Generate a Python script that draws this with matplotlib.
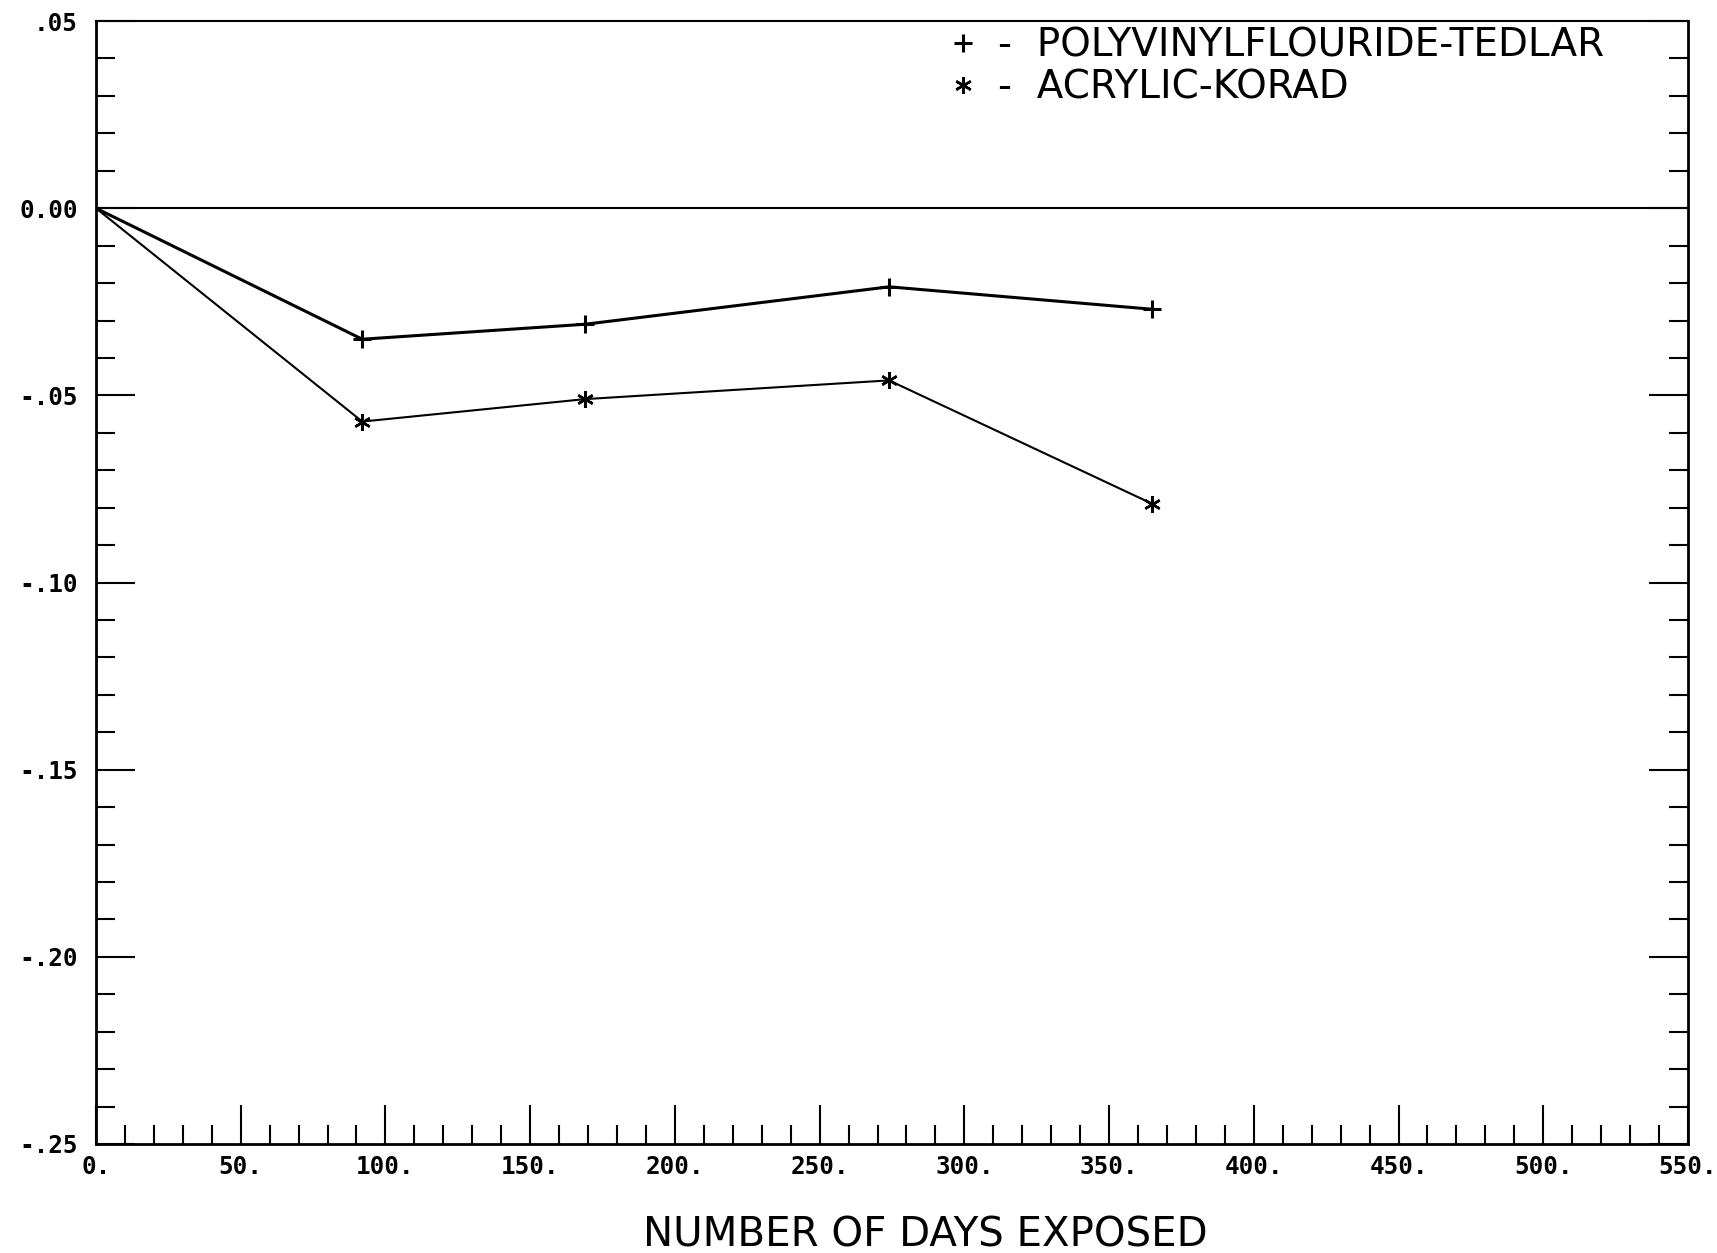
import matplotlib.pyplot as plt
from matplotlib.lines import Line2D
from matplotlib.ticker import MultipleLocator
from matplotlib.transforms import ScaledTranslation

# days of exposure and measured change for each glazing film
days = [0, 92, 169, 274, 365]
tedlar = [0.0, -0.035, -0.031, -0.021, -0.027]
korad = [0.0, -0.057, -0.051, -0.046, -0.079]

x_ticks = [0, 50, 100, 150, 200, 250, 300, 350, 400, 450, 500, 550]
x_tick_labels = ["0.", "50.", "100.", "150.", "200.", "250.", "300.",
                 "350.", "400.", "450.", "500.", "550."]
y_ticks = [0.05, 0.0, -0.05, -0.10, -0.15, -0.20, -0.25]
y_tick_labels = [".05", "0.00", "-.05", "-.10", "-.15", "-.20", "-.25"]

tick_font = {"family": "DejaVu Sans Mono", "weight": "bold", "size": 17.5}

fig = plt.figure(figsize=(17.17, 12.53), dpi=100)
ax = fig.add_axes([0.0559, 0.0870, 0.9272, 0.8962])

ax.axhline(0, color="black", lw=1.5)
ax.plot(days, tedlar, color="black", lw=2.2, marker="+", ms=13, mew=2.2,
        markevery=[1, 2, 3, 4])
ax.plot(days, korad, color="black", lw=1.5, marker=(6, 2, 0), ms=12, mew=1.8,
        markevery=[1, 2, 3, 4])

ax.set_xlim(0, 550)
ax.set_ylim(-0.25, 0.05)

ax.set_xticks(x_ticks)
ax.set_xticklabels(x_tick_labels, fontdict=tick_font)
ax.set_yticks(y_ticks)
ax.set_yticklabels(y_tick_labels, fontdict=tick_font)
ax.xaxis.set_minor_locator(MultipleLocator(10))
ax.yaxis.set_minor_locator(MultipleLocator(0.01))

# nudge the day labels a little to the left of their ticks
shift = ScaledTranslation(-0.07, 0, fig.dpi_scale_trans)
for lbl in ax.get_xticklabels():
    lbl.set_transform(lbl.get_transform() + shift)

ax.tick_params(axis="x", which="both", direction="in", bottom=True, top=False,
               width=1.5, pad=8)
ax.tick_params(axis="y", which="both", direction="in", left=True, right=True,
               width=1.5, pad=13)
ax.tick_params(which="major", length=28)
ax.tick_params(which="minor", length=14)

for side in ["left", "bottom", "right"]:
    ax.spines[side].set_linewidth(2)
ax.spines["top"].set_linewidth(1.5)

handles = [
    Line2D([], [], color="black", ls="none", marker="+", ms=13, mew=2.2),
    Line2D([], [], color="black", ls="none", marker=(6, 2, 0), ms=12, mew=1.8),
]
labels = ["-  POLYVINYLFLOURIDE-TEDLAR", "-  ACRYLIC-KORAD"]
ax.legend(handles, labels, loc="upper left", bbox_to_anchor=(0.52, 1.016),
          frameon=False, handlelength=0.8, handletextpad=0.5,
          labelspacing=0.1, borderaxespad=0.2,
          prop={"family": "DejaVu Sans", "size": 28})

fig.text(0.539, 0.014, "NUMBER OF DAYS EXPOSED", ha="center", va="center",
         family="DejaVu Sans", fontsize=29)

fig.savefig("out.png", dpi=100)
